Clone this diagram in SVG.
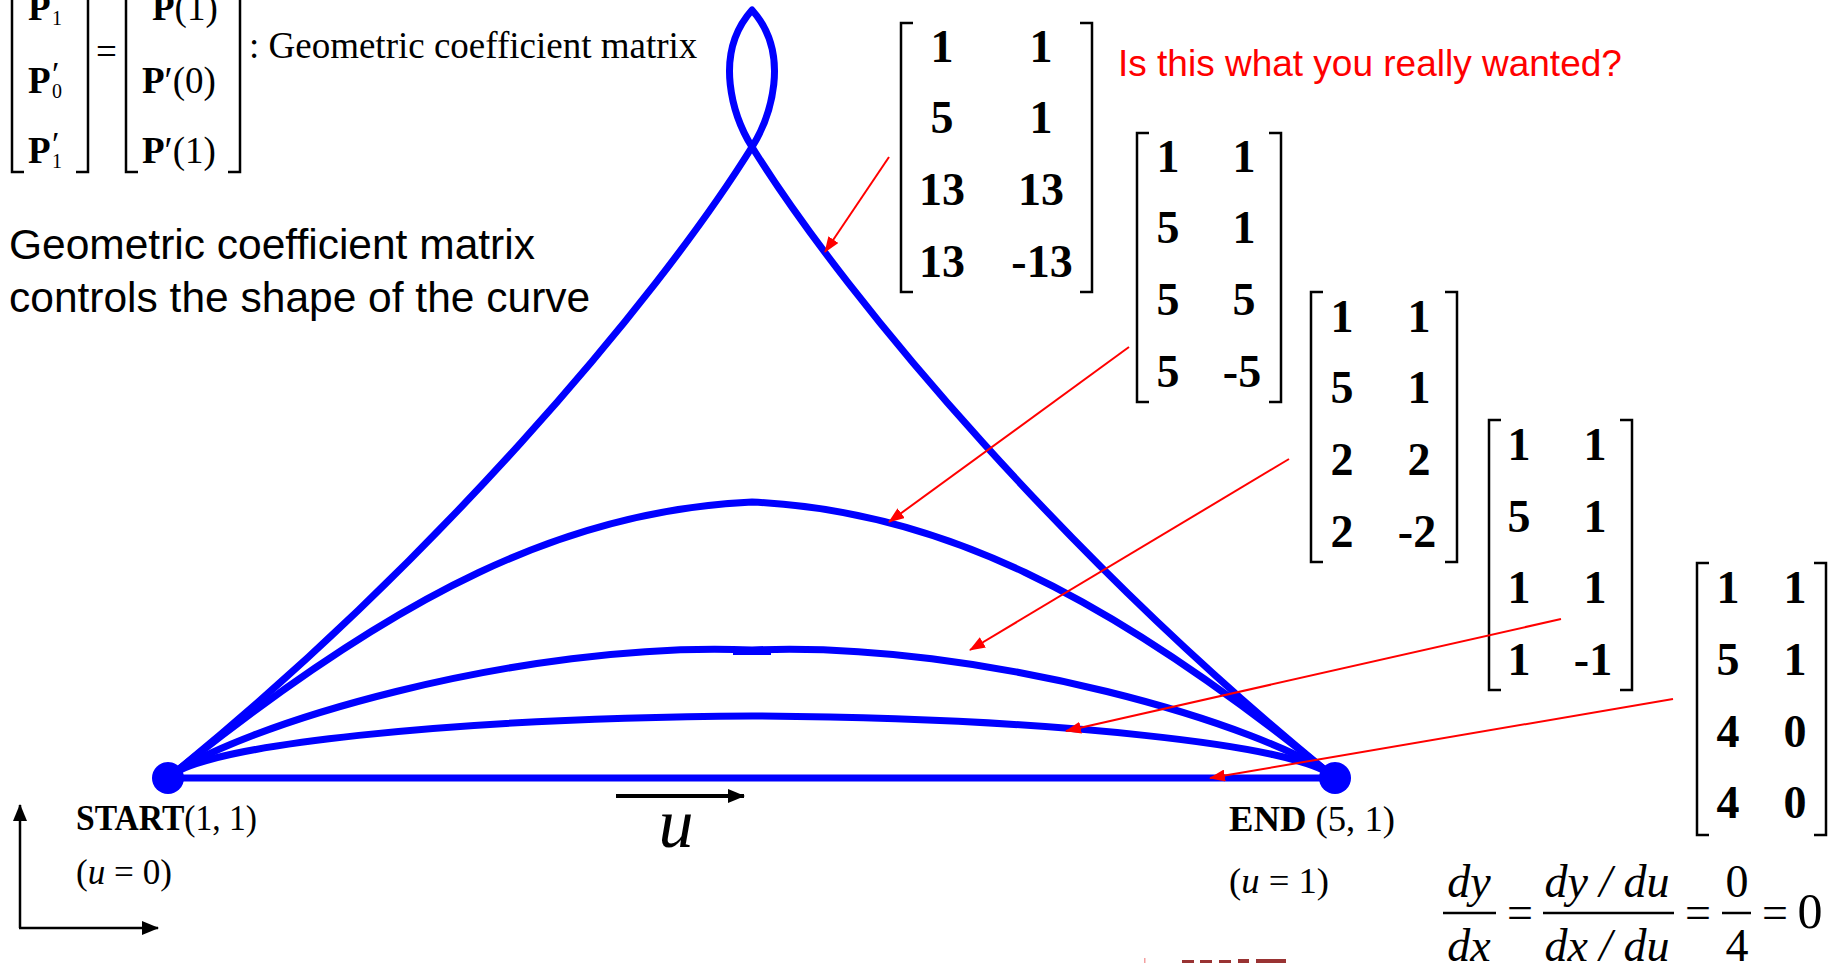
<svg xmlns="http://www.w3.org/2000/svg" width="1832" height="963" viewBox="0 0 1832 963">
<defs>
<style>
.serif{font-family:"Liberation Serif","Times New Roman",serif;fill:#000}
.sans{font-family:"Liberation Sans",Arial,sans-serif}
.num{font-family:"Liberation Serif","Times New Roman",serif;font-weight:bold;font-size:46px;text-anchor:middle;fill:#000}
.br{fill:none;stroke:#000;stroke-width:2.5}
.curve{fill:none;stroke:#0000ff;stroke-width:7;stroke-linejoin:round;stroke-linecap:round}
.ptr{fill:none;stroke:#ff0000;stroke-width:2;marker-end:url(#redhead)}
.ax{fill:none;stroke:#000;stroke-width:2.5;marker-end:url(#blackhead)}
.it{font-style:italic}
</style>
<marker id="redhead" viewBox="0 0 16 12" refX="15" refY="6" markerWidth="16" markerHeight="12" markerUnits="userSpaceOnUse" orient="auto"><path d="M0,0 L16,6 L0,12 z" fill="#ff0000"/></marker>
<marker id="blackhead" viewBox="0 0 17 14" refX="16" refY="7" markerWidth="17" markerHeight="14" markerUnits="userSpaceOnUse" orient="auto"><path d="M0,0 L17,7 L0,14 z" fill="#000"/></marker>
</defs>
<rect width="1832" height="963" fill="#fff"/>

<!-- top-left definition -->
<g id="geom-def">
<path class="br" d="M24,-5 H12 V172 H24"/>
<path class="br" d="M76,-5 H88 V172 H76"/>
<text class="serif" x="28" y="20" font-size="37" font-weight="bold">P</text>
<text class="serif" x="52" y="25" font-size="20">1</text>
<text class="serif" x="28" y="93" font-size="37" font-weight="bold">P</text>
<text class="serif" x="52" y="85" font-size="34">′</text>
<text class="serif" x="52" y="98" font-size="20">0</text>
<text class="serif" x="28" y="163" font-size="37" font-weight="bold">P</text>
<text class="serif" x="52" y="155" font-size="34">′</text>
<text class="serif" x="52" y="168" font-size="20">1</text>
<text class="serif" x="96" y="64" font-size="37">=</text>
<path class="br" d="M138,-5 H126 V172 H138"/>
<path class="br" d="M228,-5 H240 V172 H228"/>
<text class="serif" x="152" y="20" font-size="37"><tspan font-weight="bold">P</tspan>(1)</text>
<text class="serif" x="142" y="93" font-size="37"><tspan font-weight="bold">P</tspan>′(0)</text>
<text class="serif" x="142" y="163" font-size="37"><tspan font-weight="bold">P</tspan>′(1)</text>
<text class="serif" x="249" y="58" font-size="37">:  Geometric coefficient matrix</text>
</g>

<g id="caption">
<text class="sans" x="9" y="259" font-size="42.5" fill="#000">Geometric coefficient matrix</text>
<text class="sans" x="9" y="312" font-size="42.5" fill="#000">controls the shape of the curve</text>
</g>

<g id="question">
<text class="sans" x="1118" y="76" font-size="37" fill="#ff0000">Is this what you really wanted?</text>
</g>

<!-- curves -->
<g id="curves">
<path id="curve-13" class="curve" d="M168,778 C428,568 653,306 752,147 C770,118 792,55 752,10 C712,55 734,118 752,147 C851,306 1076,568 1335,778"/>
<path id="curve-5" class="curve" d="M168,778 C400,590 570,510 752,502 C934,510 1104,590 1335,778"/>
<path id="curve-2" class="curve" d="M168,778 C230,728 520,640 752,650 C983,640 1273,728 1335,778"/>
<rect x="733" y="649" width="38" height="6" fill="#0000ff"/>
<path id="curve-1" class="curve" d="M168,778 C200,745 450,718 752,716 C1053,718 1303,745 1335,778"/>
<path id="curve-4" class="curve" d="M168,778 H1335"/>
</g>

<g id="start">
<circle cx="168" cy="778" r="16" fill="#0000ff"/>
<text class="serif" x="76" y="830" font-size="36" textLength="181" lengthAdjust="spacingAndGlyphs"><tspan font-weight="bold">START</tspan>(1, 1)</text>
<text class="serif" x="76" y="884" font-size="36" textLength="96" lengthAdjust="spacingAndGlyphs">(<tspan class="it">u</tspan> = 0)</text>
</g>

<g id="end">
<circle cx="1335" cy="778" r="16" fill="#0000ff"/>
<text class="serif" x="1229" y="831" font-size="36" textLength="166" lengthAdjust="spacingAndGlyphs"><tspan font-weight="bold">END</tspan> (5, 1)</text>
<text class="serif" x="1229" y="893" font-size="36" textLength="100" lengthAdjust="spacingAndGlyphs">(<tspan class="it">u</tspan> = 1)</text>
</g>

<!-- matrices -->
<g id="matrix-13">
<path class="br" d="M913,23 H901 V292 H913"/>
<path class="br" d="M1080,23 H1092 V292 H1080"/>
<text class="num" x="942" y="62">1</text><text class="num" x="1041" y="62">1</text>
<text class="num" x="942" y="133">5</text><text class="num" x="1041" y="133">1</text>
<text class="num" x="942" y="205">13</text><text class="num" x="1041" y="205">13</text>
<text class="num" x="942" y="277">13</text><text class="num" x="1042" y="277">-13</text>
</g>
<g id="matrix-5">
<path class="br" d="M1149,133 H1137 V402 H1149"/>
<path class="br" d="M1269,133 H1281 V402 H1269"/>
<text class="num" x="1168" y="172">1</text><text class="num" x="1244" y="172">1</text>
<text class="num" x="1168" y="243">5</text><text class="num" x="1244" y="243">1</text>
<text class="num" x="1168" y="315">5</text><text class="num" x="1244" y="315">5</text>
<text class="num" x="1168" y="387">5</text><text class="num" x="1242" y="387">-5</text>
</g>
<g id="matrix-2">
<path class="br" d="M1323,292 H1311 V562 H1323"/>
<path class="br" d="M1445,292 H1457 V562 H1445"/>
<text class="num" x="1342" y="332">1</text><text class="num" x="1419" y="332">1</text>
<text class="num" x="1342" y="403">5</text><text class="num" x="1419" y="403">1</text>
<text class="num" x="1342" y="475">2</text><text class="num" x="1419" y="475">2</text>
<text class="num" x="1342" y="547">2</text><text class="num" x="1417" y="547">-2</text>
</g>
<g id="matrix-1">
<path class="br" d="M1501,420 H1489 V690 H1501"/>
<path class="br" d="M1620,420 H1632 V690 H1620"/>
<text class="num" x="1519" y="460">1</text><text class="num" x="1595" y="460">1</text>
<text class="num" x="1519" y="532">5</text><text class="num" x="1595" y="532">1</text>
<text class="num" x="1519" y="603">1</text><text class="num" x="1595" y="603">1</text>
<text class="num" x="1519" y="675">1</text><text class="num" x="1593" y="675">-1</text>
</g>
<g id="matrix-4">
<path class="br" d="M1709,563 H1697 V835 H1709"/>
<path class="br" d="M1814,563 H1826 V835 H1814"/>
<text class="num" x="1728" y="603">1</text><text class="num" x="1795" y="603">1</text>
<text class="num" x="1728" y="675">5</text><text class="num" x="1795" y="675">1</text>
<text class="num" x="1728" y="747">4</text><text class="num" x="1795" y="747">0</text>
<text class="num" x="1728" y="818">4</text><text class="num" x="1795" y="818">0</text>
</g>

<!-- connectors -->
<g id="connectors">
<line class="ptr" x1="889" y1="157" x2="825" y2="252"/>
<line class="ptr" x1="1129" y1="347" x2="889" y2="522"/>
<line class="ptr" x1="1289" y1="459" x2="970" y2="650"/>
<line class="ptr" x1="1561" y1="619" x2="1066" y2="731"/>
<line class="ptr" x1="1673" y1="699" x2="1210" y2="778"/>
</g>

<!-- u direction -->
<g id="u-dir">
<line x1="616" y1="796" x2="744" y2="796" stroke="#000" stroke-width="4" marker-end="url(#blackhead)"/>
<text class="serif it" x="676" y="847" font-size="70" text-anchor="middle">u</text>
</g>

<!-- axes -->
<g id="axes">
<line class="ax" x1="20" y1="928" x2="20" y2="805"/>
<line class="ax" x1="19" y1="928" x2="158" y2="928"/>
</g>

<!-- slope formula -->
<g id="slope">
<text class="serif it" x="1469" y="897" font-size="46" text-anchor="middle">dy</text>
<line x1="1443" y1="913" x2="1496" y2="913" stroke="#000" stroke-width="2.5"/>
<text class="serif it" x="1469" y="961" font-size="46" text-anchor="middle">dx</text>
<text class="serif" x="1520" y="928" font-size="46" text-anchor="middle">=</text>
<text class="serif it" x="1607" y="897" font-size="46" text-anchor="middle">dy / du</text>
<line x1="1543" y1="913" x2="1674" y2="913" stroke="#000" stroke-width="2.5"/>
<text class="serif it" x="1607" y="961" font-size="46" text-anchor="middle">dx / du</text>
<text class="serif" x="1698" y="928" font-size="46" text-anchor="middle">=</text>
<text class="serif" x="1737" y="897" font-size="46" text-anchor="middle">0</text>
<line x1="1722" y1="913" x2="1751" y2="913" stroke="#000" stroke-width="2.5"/>
<text class="serif" x="1737" y="961" font-size="46" text-anchor="middle">4</text>
<text class="serif" x="1775" y="928" font-size="46" text-anchor="middle">=</text>
<text class="serif" x="1810" y="928" font-size="50" text-anchor="middle">0</text>
</g>

<!-- partial logo at bottom -->
<g id="logo">
<rect x="1144" y="958" width="1.5" height="5" fill="#f4a0a0"/>
<rect x="1182" y="960" width="12" height="3" fill="#993333"/>
<rect x="1200" y="960" width="12" height="3" fill="#993333"/>
<rect x="1219" y="960" width="12" height="3" fill="#993333"/>
<rect x="1238" y="959" width="11" height="4" fill="#993333"/>
<rect x="1256" y="959" width="30" height="4" fill="#993333"/>
</g>
</svg>
